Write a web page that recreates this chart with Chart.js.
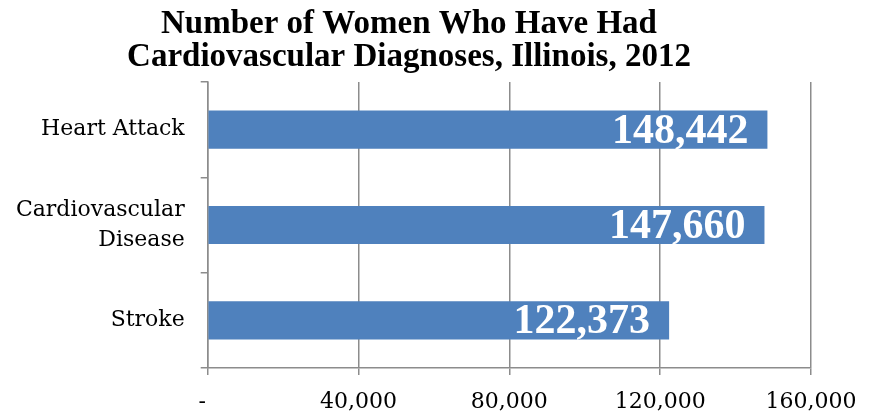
<!DOCTYPE html>
<html>
<head>
<meta charset="utf-8">
<script src="https://cdn.jsdelivr.net/npm/chart.js@4.4.0/dist/chart.umd.min.js"></script>
<style>
    html, body { margin: 0; padding: 0; background: #fff; }
    #wrap { width: 874px; height: 415px; }
</style>
</head>
<body>
<div id="wrap"><canvas id="womenChart"></canvas></div>
<script>
// Données du graphique
const categories = ['Heart Attack', ['Cardiovascular', 'Disease'], 'Stroke'];
const womenCounts = [148442, 147660, 122373];
const xTicks = [0, 40000, 80000, 120000, 160000];

const gridGray = '#8c8c8c';

// Étiquettes blanches à l'intérieur des barres
const barLabels = {
    id: 'barLabels',
    afterDatasetsDraw(chart) {
        const ctx = chart.ctx;
        const meta = chart.getDatasetMeta(0);
        ctx.save();
        ctx.fillStyle = '#ffffff';
        ctx.font = 'bold 42px "Liberation Serif"';
        ctx.textAlign = 'right';
        ctx.textBaseline = 'middle';
        meta.data.forEach((bar, i) => {
            ctx.fillText(womenCounts[i].toLocaleString('en-US'), bar.x - 19, bar.y + 2);
        });
        ctx.restore();
    }
};

const ctx = document.getElementById('womenChart').getContext('2d');
new Chart(ctx, {
    type: 'bar',
    data: {
        labels: categories,
        datasets: [{
            data: womenCounts,
            backgroundColor: '#4f81bd',
            categoryPercentage: 0.4,
            barPercentage: 1
        }]
    },
    options: {
        indexAxis: 'y',
        responsive: true,
        maintainAspectRatio: false,
        animation: false,
        layout: { padding: { left: 0, right: 56, top: 0, bottom: 0 } },
        scales: {
            x: {
                min: 0,
                max: 160000,
                afterBuildTicks: scale => { scale.ticks = xTicks.map(v => ({ value: v })); },
                afterFit: scale => { scale.paddingRight = 63; scale.height = 47; },
                grid: {
                    color: gridGray,
                    lineWidth: 1.5,
                    tickLength: 7
                },
                border: { display: true, color: gridGray, width: 1.5 },
                ticks: {
                    color: '#000',
                    padding: 14,
                    maxRotation: 0,
                    font: { family: '"DejaVu Serif"', size: 22 },
                    callback: v => v === 0 ? '-\u2002' : v.toLocaleString('en-US')
                }
            },
            y: {
                afterFit: scale => { scale.width = 207.7; },
                grid: {
                    color: gridGray,
                    lineWidth: 1.5,
                    drawOnChartArea: false,
                    tickLength: 7
                },
                border: { display: true, color: gridGray, width: 1.5 },
                ticks: {
                    color: '#000',
                    padding: 16,
                    font: { family: '"DejaVu Serif"', size: 22, lineHeight: 1.36 }
                }
            }
        },
        plugins: {
            legend: { display: false },
            tooltip: { enabled: false },
            title: {
                display: true,
                text: ['Number of Women Who Have Had', 'Cardiovascular Diagnoses, Illinois, 2012'],
                color: '#000',
                font: { family: '"Liberation Serif"', size: 33, weight: 'bold', lineHeight: 1.0 },
                padding: { top: 8, bottom: 8 }
            }
        }
    },
    plugins: [barLabels]
});
</script>
</body>
</html>
